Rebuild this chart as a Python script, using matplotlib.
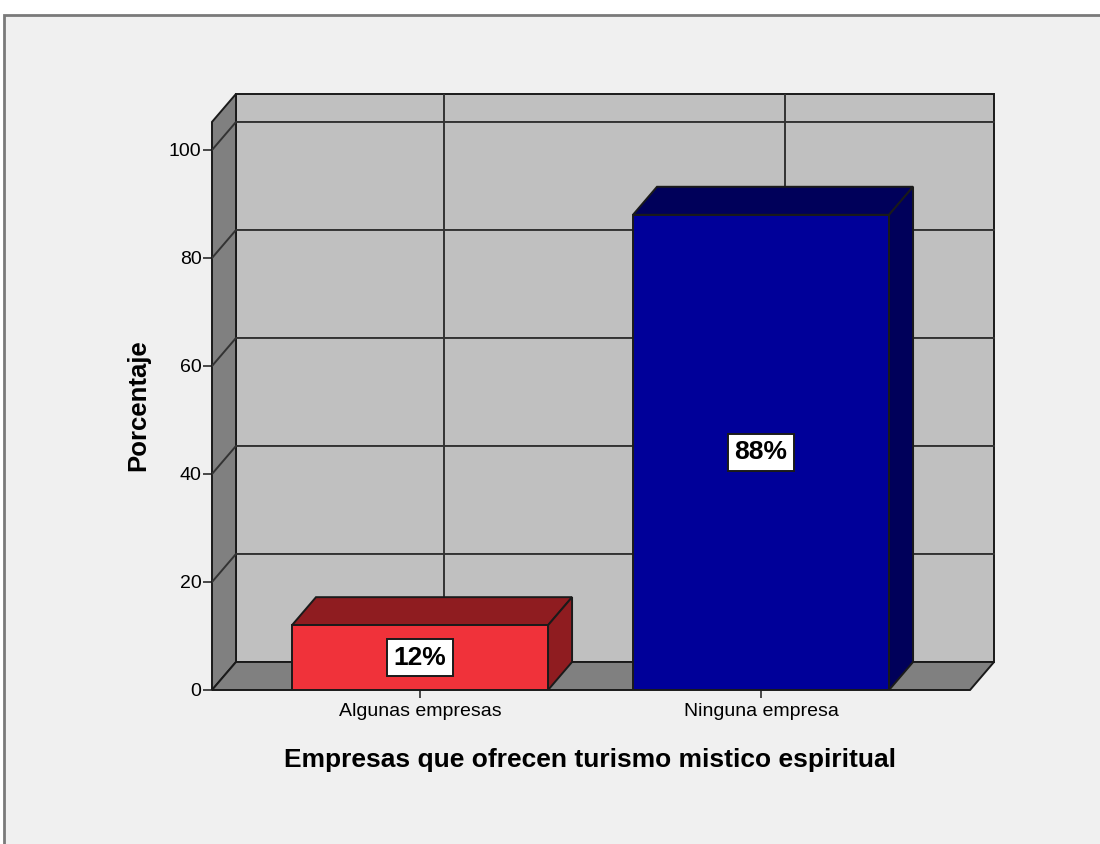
import numpy as np
import matplotlib
matplotlib.use("Agg")
import matplotlib.pyplot as plt
from matplotlib.patches import Polygon, Rectangle

plt.rcParams['font.family'] = ['Liberation Sans', 'DejaVu Sans']

# data
categories = ["Algunas empresas", "Ninguna empresa"]
percent = [12, 88]
value_labels = ["12%", "88%"]
y_ticks = [0, 20, 40, 60, 80, 100]
front_colors = ["#f0323a", "#000099"]
dark_colors = ["#8f1c20", "#00005a"]

# 3d look
x0, x1 = -0.61, 1.613     # front floor edges
ytop = 105.2              # front top of left wall
dx, dy = 0.0704, 5.19     # depth offset
bw = 0.751

fig = plt.figure(figsize=(11, 8.44), dpi=100)
fig.patch.set_facecolor("white")
fig.add_artist(Rectangle((4/1100, -0.1), 1.2, 1 - 15/844 + 0.1, transform=fig.transFigure,
                         facecolor="#f0f0f0", edgecolor="#7a7a7a", lw=2, zorder=-10))

ax = fig.add_axes([212/1100, 1 - 690/844, 791/1100, 596/844])
ax.set_xlim(x0, x0 + 791/341)
ax.set_ylim(0, 596/5.4)
ax.patch.set_visible(False)
for s in ax.spines.values():
    s.set_visible(False)

lc = "#1a1a1a"
lw = 1.4
# back wall, left wall, floor
ax.add_patch(Polygon([(x0+dx, dy), (x1+dx, dy), (x1+dx, ytop+dy), (x0+dx, ytop+dy)],
                     closed=True, fc="#c0c0c0", ec=lc, lw=lw, zorder=1, clip_on=False))
ax.add_patch(Polygon([(x0, 0), (x0, ytop), (x0+dx, ytop+dy), (x0+dx, dy)],
                     closed=True, fc="#808080", ec=lc, lw=lw, zorder=1, clip_on=False))
ax.add_patch(Polygon([(x0, 0), (x1, 0), (x1+dx, dy), (x0+dx, dy)],
                     closed=True, fc="#808080", ec=lc, lw=lw, zorder=1, clip_on=False))

# grid
for v in y_ticks[1:]:
    ax.plot([x0, x0+dx, x1+dx], [v, v+dy, v+dy], color="#333333", lw=lw, zorder=2)
for i in range(len(categories)):
    ax.plot([i+dx, i+dx], [dy, ytop+dy], color="#333333", lw=lw, zorder=2)

# bars
xs = np.arange(len(categories))
ax.bar(xs, percent, width=bw, color=front_colors, edgecolor=lc, lw=lw, zorder=4)
for i, v in enumerate(percent):
    l, r = i - bw/2, i + bw/2
    ax.add_patch(Polygon([(l, v), (r, v), (r+dx, v+dy), (l+dx, v+dy)],
                         closed=True, fc=dark_colors[i], ec=lc, lw=lw, zorder=3))
    ax.add_patch(Polygon([(r, 0), (r, v), (r+dx, v+dy), (r+dx, dy)],
                         closed=True, fc=dark_colors[i], ec=lc, lw=lw, zorder=3))
    ax.text(i, v/2, value_labels[i], ha="center", va="center", fontsize=19, fontweight="bold",
            zorder=5, bbox=dict(boxstyle="square,pad=0.25", fc="white", ec=lc, lw=lw))

ax.set_yticks(y_ticks)
ax.set_xticks(xs)
ax.set_xticklabels(categories)
ax.tick_params(axis="y", length=6.5, width=1.1, pad=1, labelsize=14, color=lc)
ax.tick_params(axis="x", length=6, width=1.1, pad=3, labelsize=14, color=lc)

ax.set_ylabel("Porcentaje", fontsize=18.5, fontweight="bold")
ax.yaxis.set_label_coords(-0.0794 * 781/791, 0.478)
ax.set_xlabel("Empresas que ofrecen turismo mistico espiritual", fontsize=19, fontweight="bold")
ax.xaxis.set_label_coords(378/791, -0.097)

fig.savefig("out.png", dpi=100)
